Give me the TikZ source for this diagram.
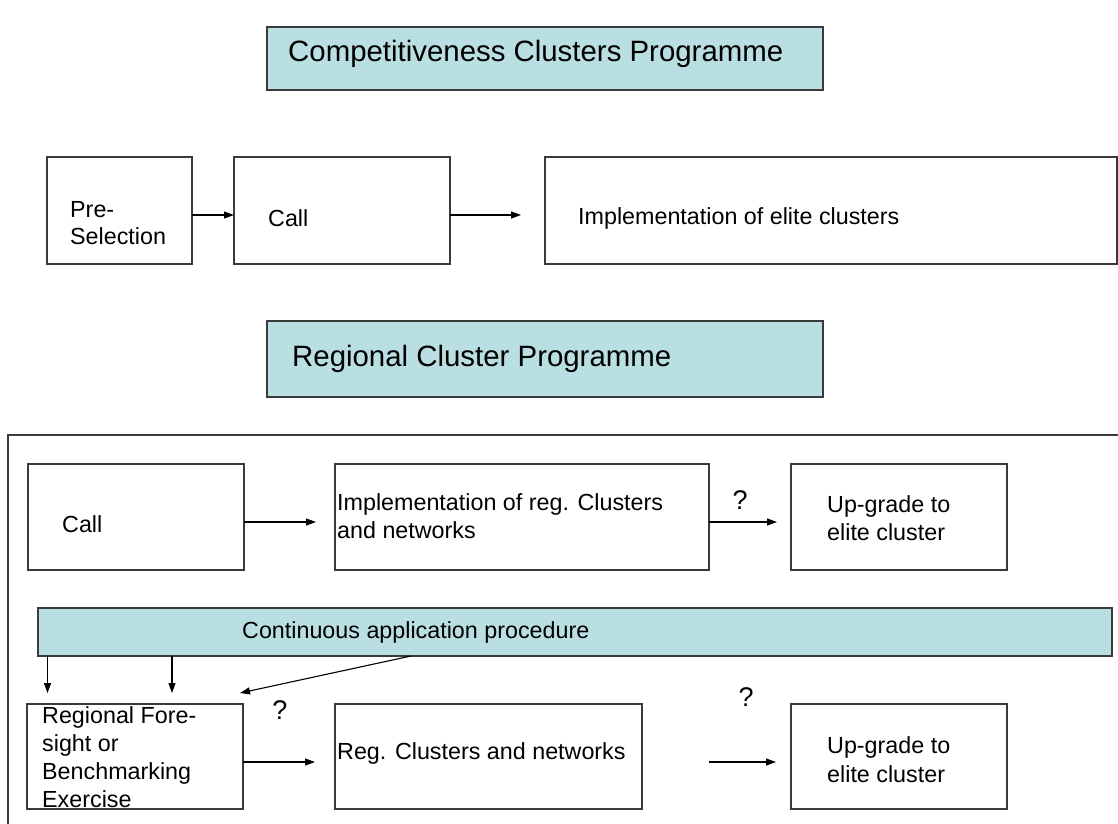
\documentclass[tikz,border=0pt]{standalone}
\usepackage{fontspec}
\setmainfont{Liberation Sans}
\usetikzlibrary{arrows.meta}
\definecolor{panel}{HTML}{B9DFE2}
\definecolor{edge}{HTML}{3A3A3A}
\tikzset{
  box/.style={draw=edge, line width=1.2pt, rectangle, inner sep=0pt, outer sep=0pt},
  titlebox/.style={box, fill=panel},
  txt/.style={inner sep=0pt, anchor=base west, font=\fontsize{23.3}{28}\selectfont},
  ttl/.style={inner sep=0pt, anchor=base west, font=\fontsize{29.4}{35}\selectfont},
  qmark/.style={inner sep=0pt, font=\fontsize{27}{32}\selectfont},
  arr/.style={-{Triangle[length=10pt,width=7pt]}, line width=1.1pt, black},
}
\begin{document}
\begin{tikzpicture}[x=1pt,y=-1pt]
\useasboundingbox (0,0) rectangle (1118,823);

% ---- Competitiveness clusters programme ----
\node[titlebox, minimum width=556pt, minimum height=63pt] (t1) at (545,58.5) {};
\node[ttl] (t1txt) at (288,61) {Competitiveness Clusters Programme};

\node[box, minimum width=145pt, minimum height=107pt] (pre) at (119.5,210.5) {};
\node[txt] (pre1) at (70,217) {Pre-};
\node[txt] (pre2) at (70,244) {Selection};

\node[box, minimum width=216pt, minimum height=107pt] (call) at (342,210.5) {};
\node[txt] (calltxt) at (268,226) {Call};

\node[box, minimum width=572pt, minimum height=107pt] (elite) at (831,210.5) {};
\node[txt] (elitetxt) at (578,224) {Implementation of elite clusters};

\coordinate (e1) at (521,215);
\draw[arr] (pre.east |- 0,215) -- (call.west |- 0,215);
\draw[arr] (call.east |- 0,215) -- (e1);

% ---- Regional cluster programme ----
\node[titlebox, minimum width=556pt, minimum height=76pt] (t2) at (545,359) {};
\node[ttl] (t2txt) at (292,366) {Regional Cluster Programme};

% surrounding frame
\draw[draw=edge, line width=1.2pt] (8,830) -- (8,435) -- (1125,435);

\node[box, minimum width=216pt, minimum height=106pt] (call2) at (136,517) {};
\node[txt] (call2txt) at (62,532) {Call};

\node[box, minimum width=374pt, minimum height=106pt] (impl) at (522,517) {};
\node[txt] (impl1) at (337,510) {Implementation of reg. Clusters};
\node[txt] (impl2) at (337,538) {and networks};

\node[box, minimum width=216pt, minimum height=106pt] (up1) at (899,517) {};
\node[txt] (up1a) at (827,512) {Up-grade to};
\node[txt] (up1b) at (827,540) {elite cluster};

\coordinate (e2) at (316,522);
\coordinate (e3) at (777,522);
\draw[arr] (call2.east |- 0,522) -- (e2);
\draw[arr] (impl.east |- 0,522) -- (e3);
\node[qmark] (q1) at (740,500) {?};

\node[titlebox, minimum width=1074pt, minimum height=48pt] (bar) at (575,632) {};
\node[txt] (bartxt) at (242,638) {Continuous application procedure};

\node[box, minimum width=216pt, minimum height=105pt] (reg) at (135,756.5) {};
\node[txt] (reg1) at (42,723) {Regional Fore-};
\node[txt] (reg2) at (42,751) {sight or};
\node[txt] (reg3) at (42,779) {Benchmarking};
\node[txt] (reg4) at (42,807) {Exercise};

\node[box, minimum width=307pt, minimum height=105pt] (rcl) at (488.5,756.5) {};
\node[txt] (rcltxt) at (337,759) {Reg. Clusters and networks};

\node[box, minimum width=216pt, minimum height=105pt] (up2) at (899,756.5) {};
\node[txt] (up2a) at (827,753) {Up-grade to};
\node[txt] (up2b) at (827,782) {elite cluster};

% feeds from the continuous procedure
\coordinate (d1) at (47.5,693);
\coordinate (d2) at (172,693);
\coordinate (d3) at (240,693);
\draw[arr] (bar.south -| d1) -- (d1);
\draw[arr] (bar.south -| d2) -- (d2);
\draw[arr] (bar.south -| 411,0) -- (d3);

\coordinate (e4) at (315,762);
\coordinate (s5) at (709,762);
\coordinate (e5) at (776,762);
\draw[arr] (reg.east |- 0,762) -- (e4);
\draw[arr] (s5) -- (e5);
\node[qmark] (q2) at (280,710) {?};
\node[qmark] (q3) at (746,697) {?};
\end{tikzpicture}
\end{document}
